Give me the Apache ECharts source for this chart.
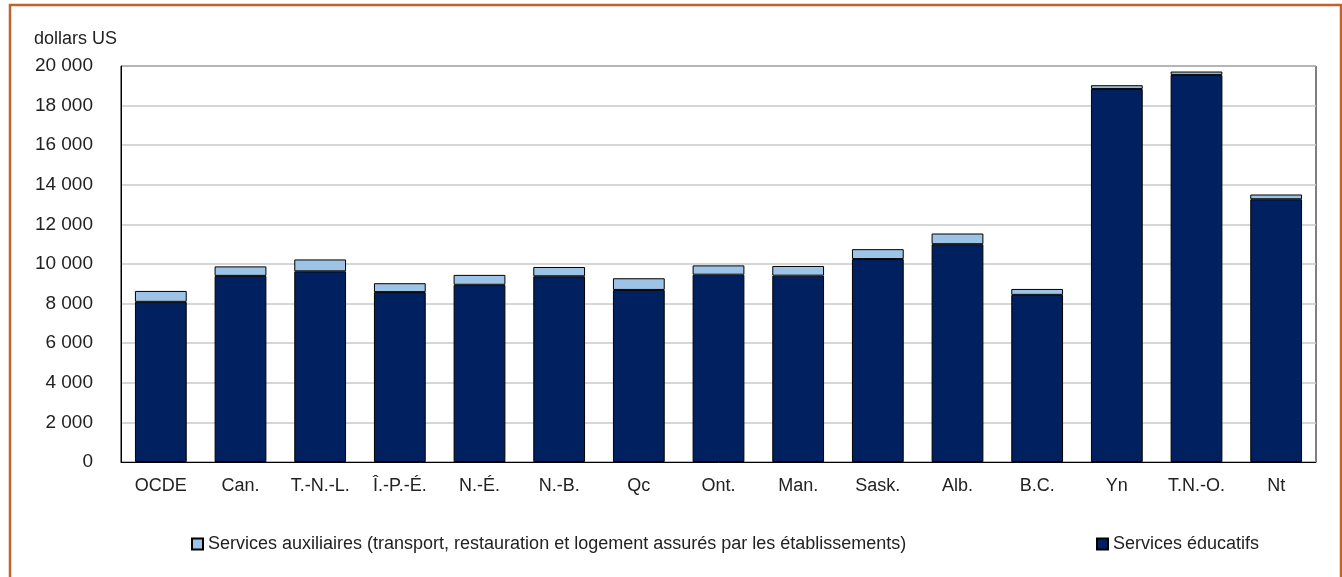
<!DOCTYPE html>
<html>
<head>
    <meta charset="utf-8">
    <script src="https://cdn.jsdelivr.net/npm/echarts@6/dist/echarts.min.js"></script>
    <style>
        html, body { margin: 0; padding: 0; background: #fff; }
        #chart { width: 1342px; height: 577px; }
    </style>
</head>
<body>
    <div id="chart"></div>
    <script>
        var categories = ['OCDE', 'Can.', 'T.-N.-L.', 'Î.-P.-É.', 'N.-É.', 'N.-B.', 'Qc', 'Ont.', 'Man.', 'Sask.', 'Alb.', 'B.C.', 'Yn', 'T.N.-O.', 'Nt'];
        var educatifs = [8090, 9400, 9630, 8580, 8950, 9380, 8690, 9460, 9410, 10250, 11000, 8440, 18840, 19550, 13270];
        var auxiliaires = [550, 480, 600, 450, 500, 470, 590, 470, 490, 500, 540, 300, 190, 170, 240];
        var yTicks = [0, 2000, 4000, 6000, 8000, 10000, 12000, 14000, 16000, 18000, 20000];

        var FONT = '"Liberation Sans", Arial, sans-serif';
        var DARK = '#002060';
        var LIGHT = '#9DC3E6';

        var chart = echarts.init(document.getElementById('chart'));

        chart.setOption({
            animation: false,
            textStyle: { fontFamily: FONT },
            title: {
                text: 'dollars US',
                left: 29,
                top: 25,
                textStyle: { fontFamily: FONT, fontSize: 18, fontWeight: 'normal', color: '#222' }
            },
            graphic: [{
                type: 'rect',
                shape: { x: 10, y: 5, width: 1331, height: 620 },
                style: { fill: 'none', stroke: '#C0622A', lineWidth: 2.5 },
                silent: true
            }],
            grid: {
                left: 121, right: 26, top: 66, bottom: 115,
                show: true, borderColor: '#000', borderWidth: 1
            },
            legend: [{
                left: 186, top: 530,
                icon: 'rect',
                itemWidth: 11, itemHeight: 11, itemGap: 6,
                data: ['Services auxiliaires (transport, restauration et logement assurés par les établissements)'],
                textStyle: { fontFamily: FONT, fontSize: 18, color: '#222' }
            }, {
                left: 1091, top: 530,
                icon: 'rect',
                itemWidth: 11, itemHeight: 11, itemGap: 6,
                data: ['Services éducatifs'],
                textStyle: { fontFamily: FONT, fontSize: 18, color: '#222' }
            }],
            xAxis: {
                type: 'category',
                data: categories,
                axisLine: { lineStyle: { color: '#000', width: 1 } },
                axisTick: { show: false },
                axisLabel: { interval: 0, margin: 15, fontFamily: FONT, fontSize: 18, color: '#222' }
            },
            yAxis: {
                type: 'value',
                min: yTicks[0],
                max: yTicks[yTicks.length - 1],
                interval: 2000,
                axisLine: { show: true, lineStyle: { color: '#000', width: 1 } },
                axisTick: { show: false },
                splitLine: { lineStyle: { color: '#C8C8C8', width: 1.5 } },
                axisLabel: {
                    margin: 28, fontFamily: FONT, fontSize: 19, color: '#222',
                    formatter: function (v) {
                        return String(v).replace(/\B(?=(\d{3})+(?!\d))/g, ' ');
                    }
                }
            },
            series: [{
                name: 'Services éducatifs',
                type: 'bar',
                stack: 'total',
                data: educatifs,
                barCategoryGap: '35%',
                itemStyle: { color: DARK, borderColor: '#000', borderWidth: 1 }
            }, {
                name: 'Services auxiliaires (transport, restauration et logement assurés par les établissements)',
                type: 'bar',
                stack: 'total',
                data: auxiliaires,
                barCategoryGap: '35%',
                itemStyle: { color: LIGHT, borderColor: '#000', borderWidth: 1 }
            }]
        });
    </script>
</body>
</html>
